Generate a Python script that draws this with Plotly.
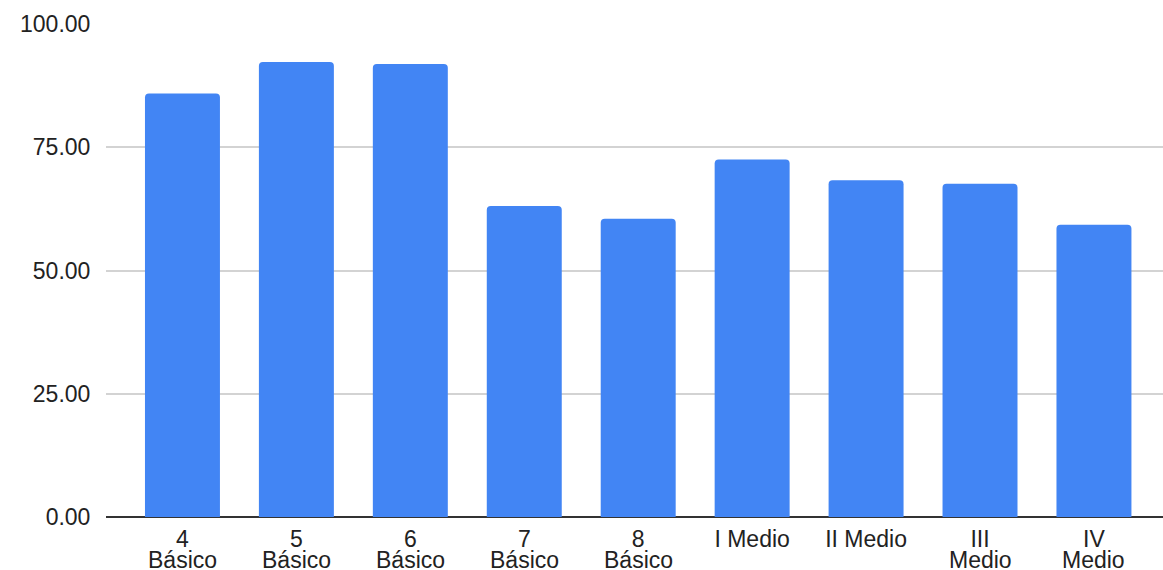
import plotly.graph_objects as go

line1 = ["4", "5", "6", "7", "8", "I Medio", "II Medio", "III", "IV"]
line2 = ["Básico", "Básico", "Básico", "Básico", "Básico", "", "", "Medio", "Medio"]
values = [85.9, 92.3, 91.9, 63.1, 60.5, 72.5, 68.3, 67.6, 59.3]
y_ticks = [0, 25, 50, 75, 100]
y_tick_labels = ["0.00", "25.00", "50.00", "75.00", "100.00"]

x_idx = list(range(len(values)))
FONT = "Liberation Sans, Arial, sans-serif"
FS = 23

fig = go.Figure(go.Bar(x=x_idx, y=values, marker=dict(color="#4285F4", line=dict(width=0))))

for i, t in enumerate(line2):
    if t:
        fig.add_annotation(x=i, xref="x", y=0, yref="paper", yanchor="middle",
                           yshift=-43, text=t, showarrow=False,
                           font=dict(family=FONT, size=FS, color="#222222"))

fig.update_layout(
    width=1163, height=570,
    margin=dict(l=106, r=0, t=24, b=53),
    plot_bgcolor="white", paper_bgcolor="white",
    bargap=0.342,
    barcornerradius=4,
    font=dict(family=FONT, size=FS, color="#222222"),
    showlegend=False,
)
fig.update_xaxes(
    tickmode="array", tickvals=x_idx, ticktext=line1,
    range=[-0.671, 8.606], automargin=False,
    showgrid=False, showline=False, zeroline=False,
    ticks="outside", ticklen=1, tickcolor="rgba(0,0,0,0)",
)
fig.update_yaxes(
    range=[0, 100], tickmode="array", tickvals=y_ticks, ticktext=y_tick_labels,
    automargin=False,
    showgrid=True, gridcolor="#d3d3d3", gridwidth=1.5,
    zeroline=True, zerolinecolor="#333333", zerolinewidth=2,
    showline=False,
    ticks="outside", ticklen=10, tickcolor="rgba(0,0,0,0)",
)
fig.write_html("out.html", config={"displayModeBar": False},
               post_script="document.body.style.margin='0';")
